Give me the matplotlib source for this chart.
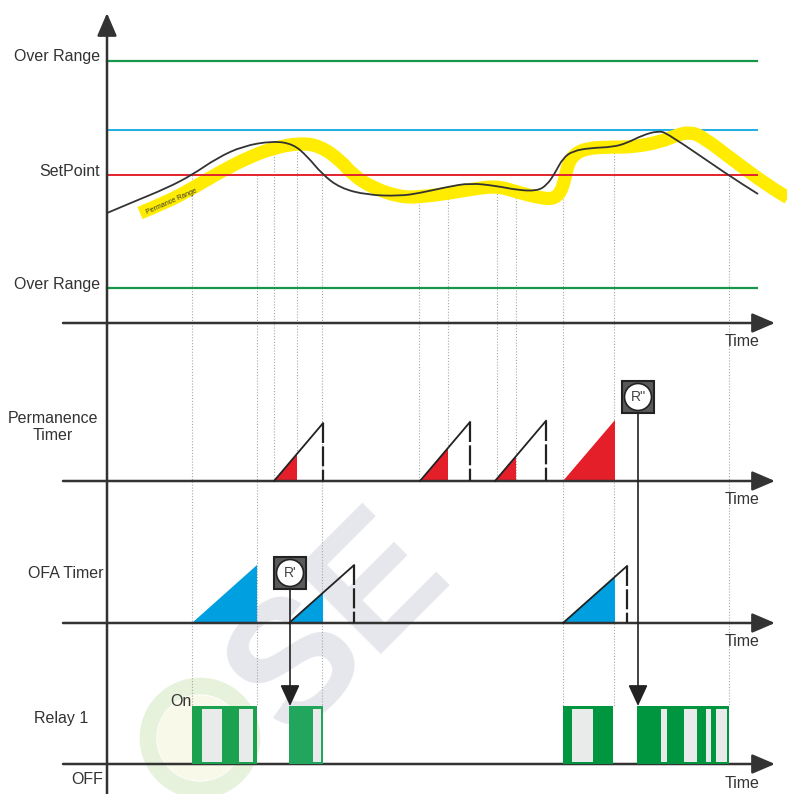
import matplotlib.pyplot as plt
from matplotlib.patches import Rectangle, Circle, Polygon, PathPatch
from matplotlib.path import Path

plt.rcParams['font.family'] = ['Liberation Sans', 'DejaVu Sans']

# process value curve (time, level), screen units
black_x = [107, 133, 167, 192, 217, 243, 273, 293, 307, 322, 340, 367, 400, 420, 447,
           470, 497, 517, 537, 547, 555, 563, 573, 590, 613, 627, 643, 658, 667, 728, 758]
black_y = [213, 202, 188, 175, 158, 146, 141, 144, 156, 174, 188, 195, 196, 193, 187,
           183, 186, 190, 191, 185, 173, 158, 151, 148, 147, 143, 135, 131, 133, 175, 194]

# permanence range band
band_x = [140, 167, 193, 220, 247, 273, 300, 320, 340, 353, 373, 400, 420, 450, 473,
          497, 517, 540, 555, 563, 567, 573, 587, 613, 633, 660, 677, 690, 703, 733, 767, 790]
band_y = [213, 202, 188, 172, 158, 148, 143, 146, 160, 175, 188, 197, 197, 193, 189,
          186, 192, 198, 199, 188, 167, 155, 148, 147, 147, 142, 135, 132, 137, 160, 185, 199]

# horizontal levels
levels = {'over_hi': 61, 'alarm': 130, 'setpoint': 175, 'over_lo': 288}

# event times (dotted guides): x, top, bottom
guides = [(192, 175, 706), (257, 175, 706), (274, 142, 481), (297, 152, 453),
          (322, 175, 706), (419, 196, 481), (448, 187, 448), (497, 185, 481),
          (516, 189, 481), (563, 170, 706), (614, 147, 706), (729, 175, 706)]

# permanence timer ramps
perm_start = [274, 420, 495, 563]
perm_fill = [297, 448, 516, 615]
perm_reset = [323, 470, 546, None]

# OFA timer ramps
ofa_start = [192, 289, 563]
ofa_fill = [257, 323, 615]
ofa_reset = [None, 354, 627]

# relay 1 on periods and short off gaps
relay_on = [(192, 257), (289, 323), (563, 613), (637, 729)]
relay_col = ['#1ba24f', '#22a55c', '#00963f', '#00963f']
relay_gaps = [(202, 222), (239, 253), (313, 321), (572, 593),
              (661, 667), (684, 697), (706, 711), (716, 727)]

# reset events
resets = [("R'", 290, 573), ("R''", 638, 397)]

# layout
AX_X = 107
BASES = [323, 481, 623, 764]
PERM_BASE, OFA_BASE, RELAY_BASE = 481, 623, 764
RELAY_TOP = 706
PERM_SLOPE, OFA_SLOPE = 1.18, 0.89
DARK = '#333333'


def smooth_path(xs, ys):
    # quadratic bezier through midpoints, read points used as control points
    pts = list(zip(xs, ys))
    verts = [pts[0]]
    codes = [Path.MOVETO]
    for i in range(1, len(pts) - 1):
        mid = ((pts[i][0] + pts[i + 1][0]) / 2, (pts[i][1] + pts[i + 1][1]) / 2)
        verts += [pts[i], mid]
        codes += [Path.CURVE3, Path.CURVE3]
    verts.append(pts[-1])
    codes.append(Path.LINETO)
    return Path(verts, codes)


fig = plt.figure(figsize=(7.87, 7.94), dpi=100)
ax = fig.add_axes([0, 0, 1, 1])
ax.set_xlim(0, 787)
ax.set_ylim(794, 0)
ax.axis('off')

# watermark
ax.add_patch(Circle((200, 738), 52, fill=False, lw=12, ec='#e6f2dc', zorder=0))
ax.add_patch(Circle((200, 738), 42, color='#f8f9e8', zorder=0))
ax.text(340, 625, 'SE', rotation=45, fontsize=125, fontweight='bold', color='#e6e7ec',
        ha='center', va='center', zorder=0)

# guides
for gx, gt, gb in guides:
    ax.plot([gx, gx], [gt, gb], color='#a8a8a8', lw=0.8, ls=(0, (1, 1.6)), zorder=1)

# level lines
ax.plot([AX_X, 757], [levels['over_hi']] * 2, color='#15984a', lw=1.6, zorder=2)
ax.plot([AX_X, 757], [levels['alarm']] * 2, color='#1eaee6', lw=1.4, zorder=2)
ax.plot([AX_X, 757], [levels['setpoint']] * 2, color='#e5222b', lw=1.4, zorder=3)
ax.plot([AX_X, 757], [levels['over_lo']] * 2, color='#15984a', lw=1.6, zorder=2)

# curves
ax.add_patch(PathPatch(smooth_path(band_x, band_y), fill=False, ec='#ffec00', lw=9.5,
                       capstyle='butt', joinstyle='round', zorder=2))
ax.text(172, 202, 'Permance Range', rotation=24, fontsize=5, color=DARK,
        ha='center', va='center', zorder=4)
ax.add_patch(PathPatch(smooth_path(black_x, black_y), fill=False, ec=DARK, lw=1.3, zorder=4))

# axes with arrows
arrow = dict(arrowstyle='-|>,head_length=0.7,head_width=0.3', color=DARK, lw=1.8,
             mutation_scale=20, shrinkA=0, shrinkB=0)
ax.annotate('', xy=(AX_X, 13), xytext=(AX_X, 794), arrowprops=arrow, zorder=5)
for b in BASES:
    ax.annotate('', xy=(775, b), xytext=(63, b), arrowprops=arrow, zorder=5)
    ax.text(742, b + 19, 'Time', fontsize=11.5, color=DARK, ha='center', va='center')

# permanence timer
for s, f, r in zip(perm_start, perm_fill, perm_reset):
    ax.add_patch(Polygon([(s, PERM_BASE), (f, PERM_BASE), (f, PERM_BASE - (f - s) * PERM_SLOPE)],
                         closed=True, color='#e41f2a', lw=0, zorder=4))
    if r is not None:
        top = PERM_BASE - (r - s) * PERM_SLOPE
        ax.plot([s, r], [PERM_BASE, top], color='#222222', lw=1.3, zorder=5)
        ax.plot([r, r], [top, PERM_BASE], color='#222222', lw=1.6, ls=(0, (9, 1.5)), zorder=5)

# OFA timer
for s, f, r in zip(ofa_start, ofa_fill, ofa_reset):
    ax.add_patch(Polygon([(s, OFA_BASE), (f, OFA_BASE), (f, OFA_BASE - (f - s) * OFA_SLOPE)],
                         closed=True, color='#009fe0', lw=0, zorder=4))
    if r is not None:
        top = OFA_BASE - (r - s) * OFA_SLOPE
        ax.plot([s, r], [OFA_BASE, top], color='#222222', lw=1.3, zorder=5)
        ax.plot([r, r], [top, OFA_BASE], color='#222222', lw=1.6, ls=(0, (9, 1.5)), zorder=5)

# relay
for (a, b), c in zip(relay_on, relay_col):
    ax.add_patch(Rectangle((a, RELAY_TOP), b - a, RELAY_BASE - RELAY_TOP, color=c, lw=0, zorder=6))
for a, b in relay_gaps:
    ax.add_patch(Rectangle((a, RELAY_TOP + 3), b - a, RELAY_BASE - RELAY_TOP - 5,
                           color='#e9ebea', lw=0, zorder=7))

# reset markers with arrows to relay
rarrow = dict(arrowstyle='-|>,head_length=0.65,head_width=0.3', color='#222222', lw=1.2,
              mutation_scale=20, shrinkA=0, shrinkB=0)
for lab, rx, ry in resets:
    ax.annotate('', xy=(rx, RELAY_TOP), xytext=(rx, ry + 16), arrowprops=rarrow, zorder=8)
    ax.add_patch(Rectangle((rx - 16, ry - 16), 32, 32, fc='#5a5a5a', ec='#222222', lw=1.5, zorder=8))
    ax.add_patch(Circle((rx, ry), 13.5, fc='white', ec='#222222', lw=1.2, zorder=9))
    ax.text(rx, ry, lab, fontsize=10, color='#444444', ha='center', va='center', zorder=10)

# labels
lab = dict(fontsize=11.5, color=DARK, va='center')
ax.text(100, 57, 'Over Range', ha='right', **lab)
ax.text(100, 172, 'SetPoint', ha='right', **lab)
ax.text(100, 284, 'Over Range', ha='right', **lab)
ax.text(53, 427, 'Permanence\nTimer', ha='center', linespacing=1.15, **lab)
ax.text(103, 574, 'OFA Timer', ha='right', **lab)
ax.text(61, 719, 'Relay 1', ha='center', **lab)
ax.text(181, 702, 'On', ha='center', **lab)
ax.text(87, 779, 'OFF', ha='center', **lab)

fig.savefig('out.png', dpi=100)
